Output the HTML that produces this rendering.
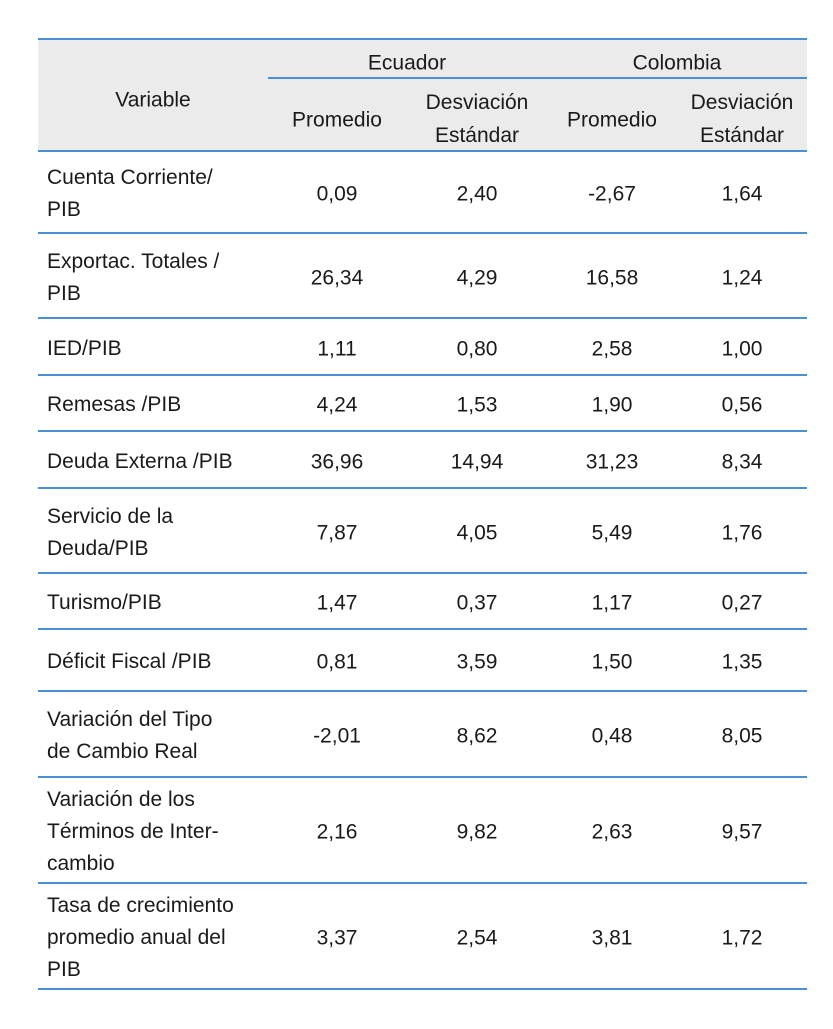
<!DOCTYPE html>
<html><head><meta charset="utf-8">
<style>
body{margin:0;width:833px;height:1029px;background:#fff;position:relative;overflow:hidden;font-family:"Liberation Sans",sans-serif;color:#1a1a1a;}
.a{position:absolute;}
.hl{position:absolute;height:1.5px;background:#4a8fd4;}
.c{position:absolute;text-align:center;font-size:21px;line-height:33px;transform:translate(-50%,-50%);white-space:nowrap;}
.l{position:absolute;left:47px;font-size:21px;line-height:32px;transform:translateY(-50%);white-space:nowrap;}
</style></head><body>
<div class="a" style="left:38px;top:38px;width:769px;height:112px;background:#ebebeb"></div>
<div class="hl" style="left:38px;top:38px;width:769px"></div>
<div class="hl" style="left:268px;top:77px;width:539px"></div>
<div class="hl" style="left:38px;top:150px;width:769px"></div>
<div class="c" style="left:153px;top:100px">Variable</div>
<div class="c" style="left:407px;top:63px">Ecuador</div>
<div class="c" style="left:677px;top:63px">Colombia</div>
<div class="c" style="left:337px;top:120px">Promedio</div>
<div class="c" style="left:477px;top:119px">Desviación<br>Estándar</div>
<div class="c" style="left:612px;top:120px">Promedio</div>
<div class="c" style="left:742px;top:119px">Desviación<br>Estándar</div>
<script>
const labels=["Cuenta Corriente/<br>PIB","Exportac. Totales /<br>PIB","IED/PIB","Remesas /PIB","Deuda Externa /PIB","Servicio de la<br>Deuda/PIB","Turismo/PIB","Déficit Fiscal /PIB","Variación del Tipo<br>de Cambio Real","Variación de los<br>Términos de Inter-<br>cambio","Tasa de crecimiento<br>promedio anual del<br>PIB"];
const ecuProm=["0,09","26,34","1,11","4,24","36,96","7,87","1,47","0,81","-2,01","2,16","3,37"];
const ecuDesv=["2,40","4,29","0,80","1,53","14,94","4,05","0,37","3,59","8,62","9,82","2,54"];
const colProm=["-2,67","16,58","2,58","1,90","31,23","5,49","1,17","1,50","0,48","2,63","3,81"];
const colDesv=["1,64","1,24","1,00","0,56","8,34","1,76","0,27","1,35","8,05","9,57","1,72"];
const bounds=[150,232,317,374,430,487,572,628,690,776,882,988];
const cols=[337,477,612,742];
for(let i=0;i<labels.length;i++){
  const mid=(bounds[i]+bounds[i+1])/2+3;
  const lab=document.createElement('div');
  lab.className='l';lab.style.top=mid+'px';lab.innerHTML=labels[i];
  
  
  document.body.appendChild(lab);
  const vals=[ecuProm[i],ecuDesv[i],colProm[i],colDesv[i]];
  for(let j=0;j<4;j++){
    const c=document.createElement('div');
    c.className='c';c.style.left=cols[j]+'px';c.style.top=mid+'px';c.textContent=vals[j];
    
    
    document.body.appendChild(c);
  }
  const ln=document.createElement('div');
  ln.className='hl';ln.style.left='38px';ln.style.width='769px';ln.style.top=bounds[i+1]+'px';
  
  
  document.body.appendChild(ln);
}
</script>
</body></html>
